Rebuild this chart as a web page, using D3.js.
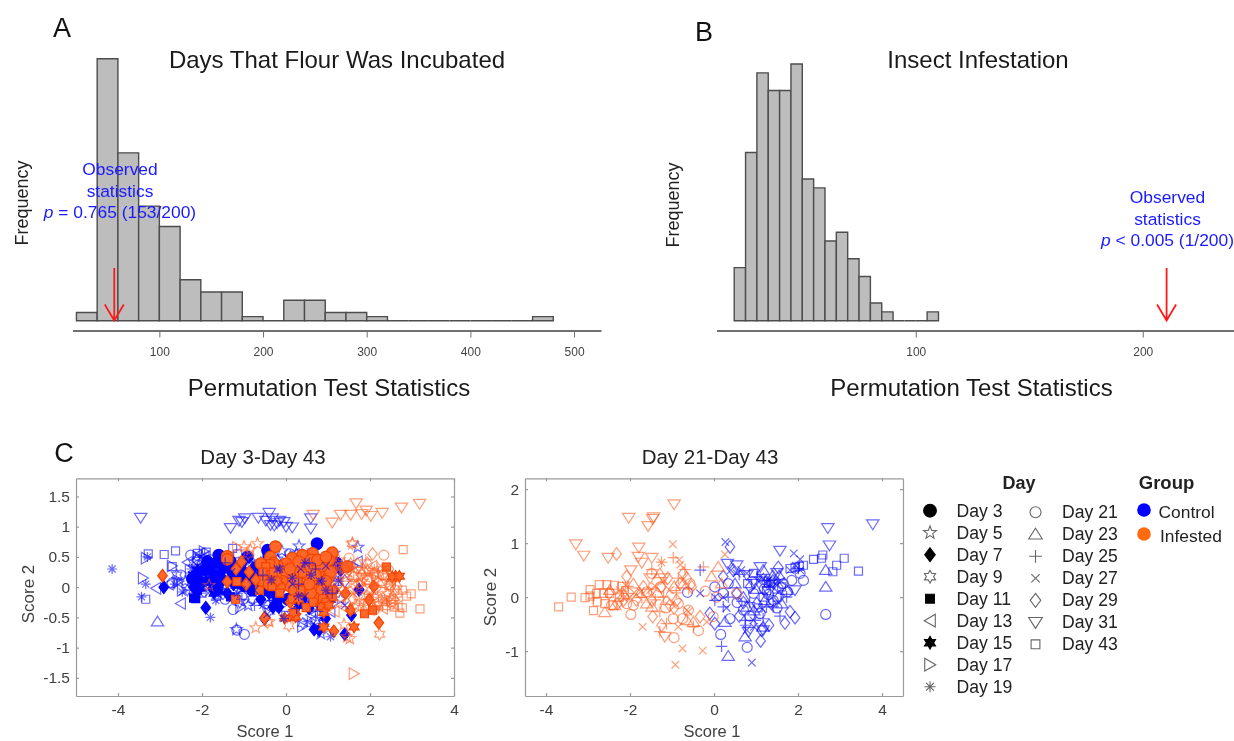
<!DOCTYPE html>
<html>
<head>
<meta charset="utf-8">
<script src="https://cdn.jsdelivr.net/npm/d3@7"></script>
<style>
  body{ margin:0; background:#fff; }
  svg{ display:block; filter:blur(0.5px); font-family:"Liberation Sans", Arial, sans-serif; }
</style>
</head>
<body>
<div id="chart"></div>
<script>
let w = 1234;
let h = 741;

// histogram counts
let histABinStart = 20;
let histABinWidth = 20;
let histACounts = [2,64,41,28,23,10,7,7,1,0,5,5,2,2,1,0,0,0,0,0,0,0,1];
let histATicks = [100,200,300,400,500];
let histAObserved = 56.5;

let histBBinStart = 20;
let histBBinWidth = 5;
let histBCounts = [6,19,28,26,26,29,16,15,9,10,7,5,2,1,0,0,0,1];
let histBTicks = [100,200];
let histBObserved = 210.5;

let dayLabels = ["Day 3","Day 5","Day 7","Day 9","Day 11","Day 13","Day 15","Day 17","Day 19","Day 21","Day 23","Day 25","Day 27","Day 29","Day 31","Day 43"];
let groupLabels = ["Control","Infested"];

let scatterAXTicks = [-4,-2,0,2,4];
let scatterAYTicks = [-1.5,-1,-0.5,0,0.5,1,1.5];
let scatterBXTicks = [-4,-2,0,2,4];
let scatterBYTicks = [-1,0,1,2];

// Day 3-Day 43, control
let c1BlueDay3 = [[0.74,0.72],[-1.6,0.53],[-0.44,0.61],[-2.23,0.14],[-1.87,0.42],[-0.92,0.5],[-1,0.03],[-1.32,0.42],[-1.48,0.34],[-1.7,0.2],[-0.7,0.1],[-1.2,0.15],[1.2,0.4],[-0.95,0.2],[-2.1,0.05],[-1.95,0.28],[-1.55,0.12],[-1.1,0.3],[-0.8,-0.05],[-0.55,0.25],[-0.25,-0.1],[0.05,-0.2],[0.35,-0.2],[0.8,-0.25],[-1.65,0.4]];
let c1BlueDay5 = [[-1.18,-0.7],[0.31,0.68],[1.71,0.66],[-2,0.5],[0.83,-0.77],[1.14,0.56],[-1.5,0.1],[-0.6,0.4],[0.1,0.5],[-2.4,0.1],[-0.3,-0.25],[0.5,-0.3],[1.3,-0.2],[-0.9,-0.3],[-1.25,-0.05],[-0.1,0.6],[0.65,0.6]];
let c1BlueDay7 = [[-2.91,0],[-1.91,-0.34],[-0.17,-0.33],[-0.31,-0.33],[-0.51,-0.52],[0.94,-0.52],[1.4,-0.78],[1.56,-0.46],[1.74,-0.04],[-1.6,0.03],[-1.83,0.31],[0.67,-0.7],[0.79,-0.71],[1.18,0.35],[1.3,0.28],[-1.04,0.12],[-2.11,0.17],[-1.4,-0.1],[-0.8,0.3],[-1.25,0.05],[-0.6,-0.2],[-0.4,-0.1],[0.55,-0.35],[1.15,-0.05],[-1.75,-0.02],[-2.2,0]];
let c1BlueDay9 = [[-2.6,0.2],[-1.9,0.25],[-0.8,-0.2],[0.25,0.55],[0.7,-0.55],[-1.3,0.3],[-0.4,-0.4],[1,0.15],[-2.2,0.4],[-1.65,-0.15],[0.4,-0.6],[-1.1,-0.25],[-0.2,0.45],[-2.35,-0.05],[-1,0.45],[0.15,-0.45],[0.9,-0.6]];
let c1BlueDay11 = [[-2.15,-0.19],[-2.11,-0.05],[-1.32,-0.16],[-2.15,0.2],[-1.5,0.3],[-0.96,0],[-1.15,0.05],[-0.4,0.3],[0.2,0.2],[-1.75,0.1],[-0.45,0.55],[-2.2,-0.18],[-1.95,0.1],[-1.6,-0.05],[-1.3,0.2],[-0.7,0.35],[-0.2,-0.2],[0.95,-0.1]];
let c1BlueDay13 = [[-2.35,0.41],[-2.51,-0.27],[-3.1,-0.02],[1.7,0.42],[0.59,-0.46],[-1.87,0],[-2.05,0.55],[-0.7,-0.1],[-2.8,0.05],[-1.4,0.2],[0.2,-0.2],[1.05,-0.4],[-0.5,-0.3],[-1.95,0.5],[0.7,-0.45]];
let c1BlueDay15 = [[-2.11,0.28],[-1.71,-0.1],[-1.25,0.3],[-1.9,0.1],[-1.05,0.35],[-0.5,-0.05],[-1.78,0.38],[-2.05,-0.02],[-1.55,0.22],[-2.2,0.2],[-0.95,0.15],[-1.4,0.35],[-0.75,0.2],[-0.3,-0.02],[0.3,-0.3],[1.05,-0.2]];
let c1BlueDay17 = [[-3.33,0.48],[-3.4,0.15],[-2.71,0.35],[0.39,-0.65],[-2.47,-0.05],[-1.95,0.59],[-1.08,-0.33],[-1.4,0.05],[-0.85,0.45],[1.6,0.35],[-0.3,0.1],[-2.1,0.5],[-2.55,0.1],[-0.1,-0.3],[0.6,-0.15]];
let c1BlueDay19 = [[-4.14,0.3],[-3.44,-0.16],[-3.3,0.5],[-1.8,-0.5],[-3.34,0.05],[-2.47,-0.08],[-1.67,-0.22],[0.51,-0.57],[1.06,-0.82],[-0.05,-0.52],[-2.65,0.05],[-2.05,-0.1],[-1.15,-0.1],[-0.55,-0.3],[0.85,0.1],[0.3,-0.15],[-1.55,0.25],[-2.25,0.3],[-0.15,0.3],[0.6,0.2],[1.25,0.1],[0.15,0.15],[0.45,0.4],[-0.35,0.12],[0.95,-0.05]];
let c1BlueDay21 = [[-1.26,-0.37],[-0.99,-0.78],[-1.17,-0.71],[-2.71,0.07],[-2.27,0.53],[-1.79,0.45],[-0.6,0.1],[1.15,0.2],[-1.45,-0.2],[-0.2,-0.15],[0.5,0.1],[-2.5,0.2],[0.9,-0.3],[-2.1,0.45],[-1.05,-0.15],[0.1,0.55]];
let c1BlueDay23 = [[-3.06,-0.57],[-1.95,0.2],[-1.2,0.1],[-0.45,-0.15],[0.6,-0.25],[1.2,0.1],[-0.85,0.05],[0.05,0.3],[-1.6,0.45],[-0.25,0.5],[0.8,0.45]];
let c1BlueDay25 = [[-2.3,-0.05],[-1.65,0.15],[-1.05,-0.2],[-0.55,0.2],[-0.1,-0.4],[0.55,0.4],[1.1,-0.1],[-1.45,0.4],[0.25,-0.35],[-2.05,0.38],[0.75,-0.4],[-0.75,-0.3],[0.3,0.05],[0.7,0.3]];
let c1BlueDay27 = [[-2.55,0.1],[-1.85,-0.1],[-1.3,0.25],[-0.75,-0.05],[-0.2,0.3],[0.45,-0.15],[0.95,0.35],[1.4,-0.3],[-2.1,0.35],[0.15,0.05],[-1.05,-0.05],[-0.45,-0.45],[0.65,-0.6],[0.35,0.3],[0.8,0.1]];
let c1BlueDay29 = [[-1.5,-0.1],[-2,0.05],[-0.9,0.2],[-0.25,-0.25],[0.3,0.25],[0.85,-0.2],[1.4,0.1],[1.74,-0.05],[-0.5,-0.5],[-1.05,0.4],[-1.7,0.3],[0.05,-0.1],[1.05,0.5]];
let c1BlueDay31 = [[-3.46,1.15],[-1.32,0.98],[-1.12,1.1],[-0.98,1.14],[-0.66,1.15],[-0.4,1.23],[-0.48,1.1],[-0.33,1.14],[-0.21,1.06],[-0.05,1.08],[0.15,0.99],[0.59,1.14],[0.59,0.97],[-0.37,1.03],[0,1],[-1.05,1.08],[-0.15,1.1],[-0.28,1.02]];
let c1BlueDay43 = [[-3.28,0.55],[-2.9,0.54],[-2.63,0.6],[-3.34,-0.2],[-2.71,0.34],[-2.11,0.56],[-1.27,0.64],[-1.9,0.58],[-1.55,0.3],[-0.8,0.15],[-1.15,0.55],[-2.3,0.3],[-2,-0.1]];

// Day 3-Day 43, infested
let c1RedDay3 = [[-0.25,0.67],[-1.4,0.51],[-0.37,0.5],[1.1,0.57],[0.63,0.56],[0.39,0.53],[0.15,0.48],[0,0.39],[-0.6,0.39],[0.19,0.34],[0.43,0.36],[0.67,0.34],[1.02,0.45],[0.03,0.17],[0.27,0.17],[0.55,0.17],[0.79,0.23],[1.02,0.17],[1.46,0.34],[-0.05,0.25],[0.39,0.01],[0.71,0.03],[0.11,0.01],[1.06,0.25],[-0.2,0.35],[0.87,0.06],[-1.4,0.46],[0.6,0.45],[0.25,0.1],[0.85,0.35],[-0.45,0.2],[0.1,0.3],[0.3,0.42],[0.5,0.3],[0.75,0.45],[0.95,0.1],[0.45,-0.05],[0.2,-0.05],[0.6,-0.1],[0.85,-0.05],[-0.1,0.1],[-0.25,0.2],[-0.55,0.1],[-0.15,0],[-0.3,0.4],[0.95,0.5],[0.35,0.25],[0.55,0.05],[0.7,0.2],[-0.4,0.05]];
let c1RedDay5 = [[-0.72,-0.67],[-0.68,0.72],[1.58,0.72],[1.38,-0.62],[1.52,-0.85],[-0.4,-0.57],[-1.83,0.03],[1.45,-0.82],[1.94,0.28],[2.41,-0.1],[-1,0.67],[1.8,0.1],[2.2,0.2],[1.25,0.45],[1.65,-0.3],[2.05,-0.2],[-0.85,0.62]];
let c1RedDay7 = [[-2.94,0.19],[-1.4,0.09],[-1.19,0.3],[-0.88,0.25],[-1.06,0.42],[2.09,0.01],[1.98,-0.21],[2.21,-0.59],[1.14,-0.73],[1.42,-0.1],[1.53,-0.38],[-0.51,-0.51],[0.23,-0.44],[-0.72,0.12],[-0.33,0.06],[-0.95,0.05],[0.1,-0.25],[0.75,-0.2]];
let c1RedDay9 = [[0.07,-0.64],[2.23,-0.78],[1.58,0.72],[-0.44,-0.59],[2.1,0.23],[1.54,0.39],[1.78,0.28],[1.22,0.39],[2.41,0.17],[1.35,-0.05],[1.9,-0.15],[2.55,-0.28],[1.6,0.05],[2.2,-0.3],[1.25,0.2],[-0.9,0.55]];
let c1RedDay11 = [[2.39,0.33],[1.87,-0.44],[2.06,-0.38],[-1.17,0.09],[-1.2,-0.2],[-0.63,-0.05],[0.48,-0.34],[0.19,-0.49],[1.1,-0.16],[0.87,-0.19],[-0.37,0.39],[0.39,0.23],[0.35,-0.05],[-0.48,0.34],[-0.33,0.01],[0.15,-0.2],[-0.55,0.25],[-0.15,-0.1],[0.65,-0.25],[0.95,-0.25],[1.1,-0.05],[-0.3,0.25]];
let c1RedDay13 = [[2.5,-0.2],[1.7,0.05],[2.15,-0.25],[1.3,-0.3],[2.65,-0.32],[1.95,0.15],[1.5,0.25],[2.3,-0.35],[1.15,-0.4],[2.05,0.35]];
let c1RedDay15 = [[2.61,0.18],[2.53,0.17],[-0.03,-0.51],[0.23,-0.49],[0.9,-0.66],[1.62,-0.66],[0.83,-0.33],[1.02,-0.3],[2.7,0.18],[0.18,-0.42],[0.9,-0.42],[0.3,-0.2],[-0.2,0.1]];
let c1RedDay17 = [[1.62,-1.43],[2.57,-0.2],[1.8,0.05],[-1.16,0.66],[2.3,-0.05],[1.4,0.2],[1.7,-0.35],[2.15,0.12],[1.25,-0.1]];
let c1RedDay19 = [[1.6,-0.1],[2.1,0.3],[1.3,0.1],[2.35,-0.2],[1.85,-0.3],[1,-0.1],[0.1,0.4],[1.95,0.2],[2.5,0.05],[1.55,0.3]];
let c1RedDay21 = [[2.33,0.53],[1.5,0.48],[1.94,0.12],[2.17,-0.16],[2.49,0.03],[2.1,-0.38],[1.62,0.17],[2.3,0.2],[1.3,-0.15],[1.75,-0.15],[1.95,-0.3],[1.25,0.3],[2.6,-0.05]];
let c1RedDay23 = [[1.85,0.3],[2.2,0.1],[1.45,-0.25],[2.55,-0.15],[1.7,0.4],[1,0.05],[2,-0.05],[1.6,0.2],[2.35,-0.3],[1.15,0.4]];
let c1RedDay25 = [[1.9,0.45],[2.3,-0.3],[1.55,0.1],[2.05,0.05],[1.2,0.3],[2.6,0.1],[1.75,-0.2],[1.4,0.4],[2.2,0.25]];
let c1RedDay27 = [[1.75,0.25],[2.25,0.35],[1.45,-0.05],[2,-0.1],[2.45,-0.25],[1.15,0.05],[1.85,0.05],[2.15,-0.35],[1.6,-0.4]];
let c1RedDay29 = [[2.06,0.55],[2.33,0.23],[1.94,0.39],[2.65,0.01],[1.6,-0.2],[2.15,-0.02],[1.8,0.2],[1.4,0.3],[2.45,0.3],[1.25,0.05]];
let c1RedDay31 = [[0.65,1.2],[1.1,1.07],[1.3,1.2],[1.54,1.2],[1.67,1.39],[1.8,1.21],[1.91,1.27],[2.02,1.18],[2.29,1.23],[2.75,1.32],[3.18,1.38]];
let c1RedDay43 = [[2.79,0.62],[3.25,0.02],[3.19,-0.36],[2.98,-0.11],[2.87,-0.15],[2.77,-0.05],[2.71,-0.43],[2.77,-0.34],[2.29,0.06],[2.45,0.03],[2.57,-0.33],[2.65,-0.1],[2.3,-0.2],[2.5,-0.25]];

// Day 21-Day 43, control
let c2BlueDay21 = [[2.66,-0.32],[0.79,-0.93],[0.16,-0.69],[-0.63,0.09],[0.38,-0.4],[1.85,0.31],[2.05,0.44],[2.13,0.31],[0.94,0.07],[0.02,0.19],[1.41,-0.06],[1.65,0.25],[0.7,-0.24],[1.1,-0.3],[0.22,0.07],[0.34,0.25],[1.2,0.15],[1.5,-0.2],[0.55,-0.1],[0.85,-0.35],[1.3,0.05],[1.75,0.1]];
let c2BlueDay23 = [[2.66,0.19],[2.66,0.5],[0.34,-1.09],[0.74,-0.73],[1.17,0.5],[0.7,0],[1.21,-0.06],[0.78,-0.18],[1.73,0.13],[0.26,-0.46],[1.61,-0.12],[1.17,-0.55],[1,0.15],[1.4,0.4],[0.95,-0.25],[1.55,0.4],[0.5,0.25]];
let c2BlueDay25 = [[-0.33,0.5],[0.18,-0.91],[0.74,-0.43],[0.98,-0.43],[1.17,-0.4],[0.34,0],[1.41,-0.18],[1.73,0],[2.01,0.53],[1.33,0.31],[1.02,0.38],[0.02,-0.06],[0.22,-0.18],[1.57,-0.35],[0.6,0.42],[0.85,-0.1],[1.25,-0.18],[1.2,0.3],[0.75,-0.52]];
let c2BlueDay27 = [[0.27,1.02],[1.9,0.81],[2.05,0.7],[0.9,-1.21],[-0.33,0.07],[1.17,0.35],[1.41,0.28],[0.54,0.44],[0.78,0.44],[1.81,0.5],[2.05,0.5],[0.22,0],[0.94,-0.43],[0.78,-0.61],[0.02,0],[1.25,0.25],[1.5,0.22],[0.4,0.5],[1.05,0.3],[1.35,0.2],[0.65,0.5],[1.6,0.3],[1.95,0.58],[0.3,-0.2],[1.1,0.38],[1.3,0.32],[0.95,-0.55],[1.15,-0.22]];
let c2BlueDay29 = [[0.38,0.93],[1.53,0.55],[1.93,-0.38],[1.69,-0.48],[1.11,-0.81],[1.31,-0.52],[1.81,-0.27],[-0.1,-0.3],[0.02,-0.49],[1.13,-0.61],[0.54,0.07],[0.86,0.19],[1.37,-0.12],[0.22,0.38],[0.46,0.5],[1.53,0.19],[1.02,-0.12],[1.25,0.28],[0.7,-0.1],[1.55,0],[1.4,0.3],[0.6,-0.35]];
let c2BlueDay31 = [[3.78,1.35],[2.71,1.28],[2.75,0.96],[1.57,0.86],[0.32,0.62],[0.54,0.59],[1.1,0.56],[0.78,0.41],[1.93,0.13],[0.82,-0.64],[1.17,-0.61],[1.5,0.45],[0.95,0.25],[1.3,0.1]];
let c2BlueDay43 = [[3.44,0.48],[3.1,0.72],[2.92,0.59],[2.83,0.47],[2.59,0.78],[2.37,0.7],[2.13,0.59],[1.81,0.53],[1.93,0.55],[2.03,0.57],[2.56,0.72],[0.94,0.44],[1.61,0.19],[1.17,0],[1.5,0],[1.35,0.28],[1.05,-0.2],[1.25,0.12],[0.8,0.25]];

// Day 21-Day 43, infested
let c2RedDay21 = [[-1.98,-0.32],[-0.95,-0.75],[-0.37,-0.62],[-0.85,-0.12],[-0.21,0.11],[-0.02,-0.36],[-2.08,-0.12],[-1.92,-0.15],[-1.48,0.44],[-0.61,-0.24],[-0.97,-0.4],[-2.44,-0.15],[-1.28,0.19],[-0.57,0.25],[0.54,0.07],[0.06,0],[-1.6,0.1],[-0.75,-0.4],[-1.15,-0.2]];
let c2RedDay23 = [[-2.6,-0.28],[-2.36,-0.15],[-1.92,0.25],[0.1,0.56],[-0.06,0.38],[-1.48,-0.18],[-0.49,-0.46],[-0.65,-0.43],[-1.13,-0.06],[-1.76,0.07],[-2.48,0.13],[0.18,0.25],[-0.73,0.25],[-1.29,0.44],[-2.15,0.05],[-1.35,0.08],[-0.95,0.2],[-1.6,-0.12]];
let c2RedDay25 = [[-1.25,0.65],[-0.97,0.73],[-0.69,0.51],[-0.25,0.56],[-1.48,0.51],[-1.29,-0.64],[-1.13,-0.49],[-1.29,-0.27],[-2.04,0.07],[-2.87,-0.02],[-0.85,0.35],[-0.49,-0.55],[-1.72,0],[-1.2,0],[-2.2,0.1],[-1.55,0.15],[-0.6,0.15],[-0.9,0.08],[-2.05,0.2],[-1.4,-0.05]];
let c2RedDay27 = [[-0.98,0.98],[-1.25,0.64],[-0.83,0.69],[-1.7,-0.55],[-0.75,-0.95],[-0.27,-0.99],[-0.92,-1.25],[-0.85,-0.55],[0.26,0.79],[-0.61,-0.27],[-0.65,-0.24],[-1.52,0.13],[-2.24,0.13],[-1.05,0.13],[-0.17,-0.46],[-2,0],[-2.1,0.22],[-0.8,0.6],[-1.4,0.2],[-1.9,0.08],[-1.2,0.3],[-2.15,-0.02],[-1.75,0.1]];
let c2RedDay29 = [[-2.32,0.8],[-2.08,0.38],[-2.5,0.07],[-1.46,-0.36],[-1.25,-0.52],[-1.05,-0.15],[-0.73,0.44],[-0.81,0.25],[-1.68,0.19],[-1.25,0.19],[-2.16,-0.06],[-0.33,-0.36],[-0.53,0.19],[-0.89,-0.06],[-2.3,-0.12],[-1.48,-0.06],[-1.1,0.35],[-0.65,0.35],[-1.85,-0.05],[-0.95,-0.2]];
let c2RedDay31 = [[-0.95,1.72],[-2.03,1.47],[-1.44,1.48],[-1.46,1.45],[-1.57,1.32],[-3.29,0.98],[-3.1,0.77],[-2.52,0.73],[-1.79,0.92],[-1.8,0.75],[-1.72,0.64],[-1.48,0.73],[-1.98,0.5],[-1.2,0.35],[-1.17,-0.73],[-1.52,0.35]];
let c2RedDay43 = [[-3.7,-0.18],[-3.4,0],[-3.07,-0.01],[-2.95,0.14],[-2.87,-0.25],[-2.73,0.23],[-2.8,0.07],[-2.55,0.23],[-2.37,0.22],[-2.78,-0.09],[-2.6,-0.12],[-2.4,-0.15],[-2.48,0.07],[-2.63,0.07],[-2.2,0.2],[-2.95,0.02],[-2.25,0]];

let blue = "#0000ff";
let orange = "#ff5a1e";
let orangeFill = "#ff6628";
let orangeEdge = "#f24400";

let c1Blue = [c1BlueDay3,c1BlueDay5,c1BlueDay7,c1BlueDay9,c1BlueDay11,c1BlueDay13,c1BlueDay15,c1BlueDay17,c1BlueDay19,c1BlueDay21,c1BlueDay23,c1BlueDay25,c1BlueDay27,c1BlueDay29,c1BlueDay31,c1BlueDay43];
let c1Red = [c1RedDay3,c1RedDay5,c1RedDay7,c1RedDay9,c1RedDay11,c1RedDay13,c1RedDay15,c1RedDay17,c1RedDay19,c1RedDay21,c1RedDay23,c1RedDay25,c1RedDay27,c1RedDay29,c1RedDay31,c1RedDay43];
// the second scatter only has the days from 21 on
let c2Blue = [[],[],[],[],[],[],[],[],[],c2BlueDay21,c2BlueDay23,c2BlueDay25,c2BlueDay27,c2BlueDay29,c2BlueDay31,c2BlueDay43];
let c2Red = [[],[],[],[],[],[],[],[],[],c2RedDay21,c2RedDay23,c2RedDay25,c2RedDay27,c2RedDay29,c2RedDay31,c2RedDay43];

let filledDays = [0,2,4,6];
// thin line glyphs of the control group show through on top of the orange
let onTopDays = [8,11,12];

let svg = d3.select("#chart").append("svg")
    .attr("width", w)
    .attr("height", h)
;

// polygon through radius/angle pairs, angle 0 is straight up
function polar(p, r, a, first){
  let px = r * Math.sin(a);
  let py = -r * Math.cos(a);
  if(first){ p.moveTo(px, py); } else { p.lineTo(px, py); }
}

function starPath(p, points, outer, inner){
  for(let i = 0; i < points * 2; i++){
    polar(p, i % 2 == 0 ? outer : inner, i * Math.PI / points, i == 0);
  }
  p.closePath();
}

// one glyph per day, same order as dayLabels
function markerPath(i){
  let p = d3.path();
  if(i == 0){ p.arc(0, 0, 5.8, 0, 2 * Math.PI); }
  if(i == 1){ starPath(p, 5, 6.2, 2.6); }
  if(i == 2 || i == 13){ p.moveTo(0,-6.3); p.lineTo(4.8,0); p.lineTo(0,6.3); p.lineTo(-4.8,0); p.closePath(); }
  if(i == 3 || i == 6){ starPath(p, 6, 5.8, 3.3); }
  if(i == 4 || i == 15){ p.rect(-4,-4,8,8); }
  if(i == 5){ p.moveTo(-5.2,0); p.lineTo(4.8,-5.8); p.lineTo(4.8,5.8); p.closePath(); }
  if(i == 7){ p.moveTo(5.2,0); p.lineTo(-4.8,-5.8); p.lineTo(-4.8,5.8); p.closePath(); }
  if(i == 8){
    for(let k = 0; k < 4; k++){
      polar(p, 5, k * Math.PI / 4, true);
      polar(p, 5, k * Math.PI / 4 + Math.PI, false);
    }
  }
  if(i == 9){ p.arc(0, 0, 5, 0, 2 * Math.PI); }
  if(i == 10){ p.moveTo(0,-5.5); p.lineTo(6.2,4.3); p.lineTo(-6.2,4.3); p.closePath(); }
  if(i == 11){ p.moveTo(-5.8,0); p.lineTo(5.8,0); p.moveTo(0,-5.8); p.lineTo(0,5.8); }
  if(i == 12){ p.moveTo(-3.8,-3.8); p.lineTo(3.8,3.8); p.moveTo(3.8,-3.8); p.lineTo(-3.8,3.8); }
  if(i == 14){ p.moveTo(0,5.5); p.lineTo(6.2,-4.3); p.lineTo(-6.2,-4.3); p.closePath(); }
  return p.toString();
}

function drawHist(cfg){
  let x = d3.scaleLinear().domain(cfg.xDomain).range(cfg.xRange);
  let y = d3.scaleLinear().domain([0, d3.max(cfg.counts)]).range([320.7, cfg.top]);

  // paths rather than rects: empty bins must still show as a line along the base
  svg.append("g").selectAll("path").data(cfg.counts).enter()
    .append("path")
      .attr("d", function(d,i){
        let x0 = x(cfg.binStart + i * cfg.binWidth);
        let x1 = x(cfg.binStart + (i + 1) * cfg.binWidth);
        return "M" + x0 + "," + y(0) + "V" + y(d) + "H" + x1 + "V" + y(0) + "Z";
      })
      .attr("fill", "#bdbdbd")
      .attr("stroke", "#4d4d4d")
      .attr("stroke-width", 1.4)
  ;

  let axis = d3.axisBottom(x).tickValues(cfg.ticks).tickSize(7).tickPadding(10).tickSizeOuter(0);
  let g = svg.append("g").attr("transform", "translate(0,330.5)").call(axis);
  g.select(".domain").attr("stroke", "#707070").attr("stroke-width", 2);
  g.selectAll(".tick line").attr("stroke", "#707070");
  g.selectAll("text").attr("font-size", 12).attr("fill", "#444").attr("font-family", "inherit");

  // red arrow for the observed value
  let ax = x(cfg.observed);
  svg.append("path")
    .attr("d", "M" + ax + ",268 L" + ax + ",320.5 M" + (ax - 9.5) + ",304.5 L" + ax + ",320.5 L" + (ax + 9.5) + ",304.5")
    .attr("fill", "none")
    .attr("stroke", "#ff1a1a")
    .attr("stroke-width", 1.8)
  ;

  let note = svg.append("g").attr("fill", "#1a1aff").attr("font-size", 17.4).attr("text-anchor", "middle");
  note.append("text").attr("x", cfg.noteX).attr("y", cfg.noteY).text("Observed");
  note.append("text").attr("x", cfg.noteX).attr("y", cfg.noteY + 21.5).text("statistics");
  let last = note.append("text").attr("x", cfg.noteX).attr("y", cfg.noteY + 43);
  last.append("tspan").attr("font-style", "italic").text("p");
  last.append("tspan").text(cfg.noteText);

  svg.append("text").attr("x", cfg.titleX).attr("y", 68).attr("text-anchor", "middle")
    .attr("font-size", 24).attr("fill", "#1a1a1a").text(cfg.title);
  svg.append("text").attr("x", cfg.xLabelX).attr("y", 396).attr("text-anchor", "middle")
    .attr("font-size", 24).attr("fill", "#1a1a1a").text("Permutation Test Statistics");
  svg.append("text").attr("transform", "translate(" + cfg.yLabelX + "," + cfg.yLabelY + ") rotate(-90)")
    .attr("text-anchor", "middle").attr("font-size", 18).attr("fill", "#222").text("Frequency");
}

drawHist({
  counts: histACounts, binStart: histABinStart, binWidth: histABinWidth, ticks: histATicks, observed: histAObserved,
  xDomain: [16.2, 526], xRange: [72.5, 601], top: 58.7,
  noteX: 120, noteY: 175, noteText: " = 0.765 (153/200)",
  title: "Days That Flour Was Incubated", titleX: 337, xLabelX: 329, yLabelX: 28, yLabelY: 203
});
drawHist({
  counts: histBCounts, binStart: histBBinStart, binWidth: histBBinWidth, ticks: histBTicks, observed: histBObserved,
  xDomain: [12.2, 240.2], xRange: [716.5, 1234], top: 64,
  noteX: 1167.5, noteY: 203, noteText: " < 0.005 (1/200)",
  title: "Insect Infestation", titleX: 978, xLabelX: 971.5, yLabelX: 679, yLabelY: 205
});

function drawScatter(cfg){
  let x = d3.scaleLinear().domain(cfg.xDomain).range(cfg.xRange);
  let y = d3.scaleLinear().domain(cfg.yDomain).range([696, 478.3]);
  let left = cfg.xRange[0], right = cfg.xRange[1];
  let fmt = function(d){ return String(d); };

  let axes = svg.append("g");
  axes.append("g").attr("transform", "translate(0,696)")
    .call(d3.axisBottom(x).tickValues(cfg.xTicks).tickSize(-3).tickPadding(8).tickFormat(fmt).tickSizeOuter(0));
  axes.append("g").attr("transform", "translate(" + left + ",0)")
    .call(d3.axisLeft(y).tickValues(cfg.yTicks).tickSize(-3).tickPadding(6).tickFormat(fmt).tickSizeOuter(0));
  axes.append("g").attr("transform", "translate(0,478.3)")
    .call(d3.axisTop(x).tickValues(cfg.xTicks).tickSize(-3).tickFormat("").tickSizeOuter(0));
  axes.append("g").attr("transform", "translate(" + right + ",0)")
    .call(d3.axisRight(y).tickValues(cfg.yTicks).tickSize(-3).tickFormat("").tickSizeOuter(0));
  axes.selectAll("path.domain, line").attr("stroke", "#9a9a9a").attr("stroke-width", 1.2);
  axes.selectAll("text").attr("font-size", 15.5).attr("fill", "#404040").attr("font-family", "inherit");

  function drawSeries(list, color, fillColor, edgeColor, keep){
    list.forEach(function(pts, i){
      if(!keep(i)){ return; }
      let filled = filledDays.indexOf(i) >= 0;
      svg.append("g").selectAll("path").data(pts).enter()
        .append("path")
          .attr("d", markerPath(i))
          .attr("transform", function(d){ return "translate(" + x(d[0]) + "," + y(d[1]) + ")"; })
          .attr("fill", filled ? fillColor : "none")
          .attr("stroke", filled ? edgeColor : color)
          .attr("stroke-opacity", filled ? 1 : 0.58)
          .attr("stroke-width", 1.2)
      ;
    });
  }
  drawSeries(cfg.blue, blue, blue, blue, function(i){ return onTopDays.indexOf(i) < 0; });
  drawSeries(cfg.red, orange, orangeFill, orangeEdge, function(){ return true; });
  drawSeries(cfg.blue, blue, blue, blue, function(i){ return onTopDays.indexOf(i) >= 0; });

  svg.append("text").attr("x", cfg.titleX).attr("y", 464).attr("text-anchor", "middle")
    .attr("font-size", 20.5).attr("fill", "#222").text(cfg.title);
  svg.append("text").attr("x", cfg.titleX + 2).attr("y", 737).attr("text-anchor", "middle")
    .attr("font-size", 16.5).attr("fill", "#404040").text("Score 1");
  svg.append("text").attr("transform", "translate(" + cfg.yLabelX + "," + cfg.yLabelY + ") rotate(-90)")
    .attr("text-anchor", "middle").attr("font-size", 17).attr("fill", "#404040").text("Score 2");
}

drawScatter({
  blue: c1Blue, red: c1Red, xDomain: [-5, 4], xRange: [76, 454], yDomain: [-1.8, 1.8],
  xTicks: scatterAXTicks, yTicks: scatterAYTicks,
  title: "Day 3-Day 43", titleX: 263, yLabelX: 34, yLabelY: 594
});
drawScatter({
  blue: c2Blue, red: c2Red, xDomain: [-4.5, 4.5], xRange: [525, 903], yDomain: [-1.83, 2.2],
  xTicks: scatterBXTicks, yTicks: scatterBYTicks,
  title: "Day 21-Day 43", titleX: 710, yLabelX: 496, yLabelY: 597
});

// legend
let legend = svg.append("g");
legend.append("text").attr("x", 1019).attr("y", 489).attr("text-anchor", "middle")
  .attr("font-size", 18).attr("font-weight", "bold").attr("fill", "#222").text("Day");
legend.append("text").attr("x", 1166.5).attr("y", 489).attr("text-anchor", "middle")
  .attr("font-size", 18.5).attr("font-weight", "bold").attr("fill", "#222").text("Group");

let legendRows = legend.selectAll(".dayrow").data(dayLabels).enter()
  .append("g")
    .attr("class", "dayrow")
    .attr("transform", function(d,i){
      return i < 9 ? "translate(930," + (510.7 + i * 22) + ")" : "translate(1035.5," + (512.3 + (i - 9) * 22) + ")";
    })
;
legendRows.append("path")
  .attr("d", function(d,i){ return markerPath(i); })
  .attr("transform", "scale(1.1)")
  .attr("fill", function(d,i){ return filledDays.indexOf(i) >= 0 ? "#000" : "none"; })
  .attr("stroke", function(d,i){ return filledDays.indexOf(i) >= 0 ? "#000" : "#666"; })
;
legendRows.append("text")
  .attr("x", 26.5)
  .attr("y", 6)
  .attr("font-size", 17.6)
  .attr("fill", "#222")
  .text(function(d){ return d; })
;

let groupRows = legend.selectAll(".grouprow").data(groupLabels).enter()
  .append("g")
    .attr("class", "grouprow")
    .attr("transform", function(d,i){ return "translate(1144," + (510 + i * 24) + ")"; })
;
groupRows.append("circle").attr("r", 6.8).attr("fill", function(d,i){ return i == 0 ? blue : "#ff6a10"; });
groupRows.append("text")
  .attr("x", function(d,i){ return i == 0 ? 14.5 : 16; })
  .attr("y", 7.5)
  .attr("font-size", 17.4)
  .attr("fill", "#222")
  .text(function(d){ return d; })
;

// panel letters
let panelLetters = [["A",62,37],["B",704,41],["C",64,462]];
svg.selectAll(".letter").data(panelLetters).enter()
  .append("text")
    .attr("class", "letter")
    .attr("x", function(d){ return d[1]; })
    .attr("y", function(d){ return d[2]; })
    .attr("text-anchor", "middle")
    .attr("font-size", 27)
    .attr("fill", "#111")
    .text(function(d){ return d[0]; })
;
</script>
</body>
</html>
